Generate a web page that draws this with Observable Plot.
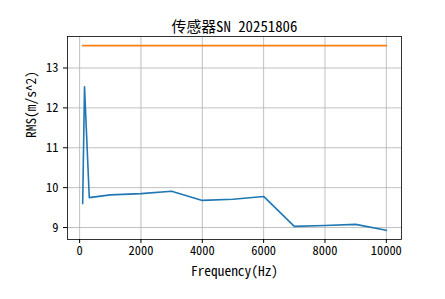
<!DOCTYPE html>
<html>
<head>
<meta charset="utf-8">
<script src="https://cdn.jsdelivr.net/npm/d3@7"></script>
<script src="https://cdn.jsdelivr.net/npm/@observablehq/plot@0.6"></script>
<style>
  html, body { margin: 0; padding: 0; background: #fff; }
  #chart svg { display: block; font-feature-settings: "hwid" 1; }
</style>
</head>
<body>
<div id="chart"></div>
<script>
const title = "传感器SN 20251806";
const xLabel = "Frequency(Hz)";
const yLabel = "RMS(m/s^2)";
const frequencies = [100, 160, 315, 1000, 2000, 3000, 4000, 5000, 6000, 7000, 8000, 9000, 10000];
const rmsValues = [9.6, 12.53, 9.75, 9.82, 9.85, 9.91, 9.68, 9.71, 9.78, 9.03, 9.05, 9.08, 8.93];
const limitValues = [13.56, 13.56, 13.56, 13.56, 13.56, 13.56, 13.56, 13.56, 13.56, 13.56, 13.56, 13.56, 13.56];
const xTicks = [0, 2000, 4000, 6000, 8000, 10000];
const yTicks = [9, 10, 11, 12, 13];

const rmsData = frequencies.map((f, i) => ({f, v: rmsValues[i]}));
const limitData = frequencies.map((f, i) => ({f, v: limitValues[i]}));

const font = "'Noto Sans CJK SC', 'DejaVu Sans', sans-serif";

const chart = Plot.plot({
  width: 445,
  height: 299,
  marginTop: 36,
  marginBottom: 60,
  marginLeft: 67,
  marginRight: 44,
  style: {fontFamily: font, fontSize: "12.4px", color: "#000", background: "#fff"},
  x: {domain: [-395, 10495], ticks: xTicks, label: null, tickSize: 4, tickPadding: 3, tickFormat: d => String(d)},
  y: {domain: [8.70, 13.79], ticks: yTicks, label: null, tickSize: 4, tickPadding: 5, tickFormat: d => String(d)},
  marks: [
    Plot.gridX(xTicks, {stroke: "#b0b0b0", strokeOpacity: 1, strokeWidth: 0.8}),
    Plot.gridY(yTicks, {stroke: "#b0b0b0", strokeOpacity: 1, strokeWidth: 0.8}),
    Plot.line(rmsData, {x: "f", y: "v", stroke: "#1f77b4", strokeWidth: 1.6}),
    Plot.line(limitData, {x: "f", y: "v", stroke: "#ff7f0e", strokeWidth: 1.6}),
    Plot.frame({stroke: "#000", strokeWidth: 0.8}),
    Plot.text([title], {frameAnchor: "top", dy: -15, fontSize: 14.8, fill: "#000"}),
    Plot.text([xLabel], {frameAnchor: "bottom", dy: 36.5, fontSize: 13.4, fill: "#000"}),
    Plot.text([yLabel], {frameAnchor: "left", dx: -36, rotate: -90, fontSize: 13.4, fill: "#000"})
  ]
});
document.getElementById("chart").appendChild(chart);
</script>
</body>
</html>
